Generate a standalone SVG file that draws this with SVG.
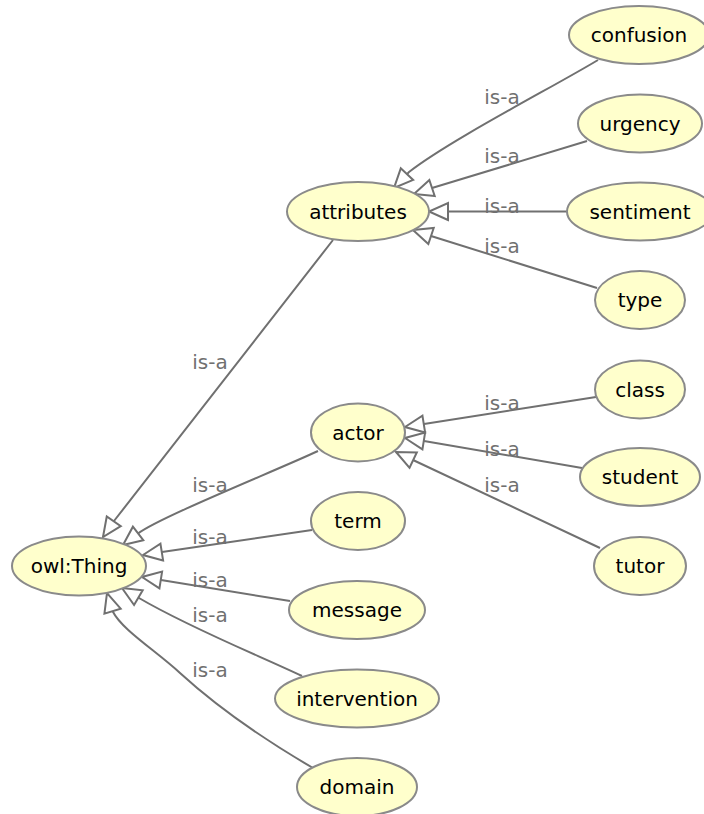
<svg xmlns="http://www.w3.org/2000/svg" width="704" height="814" viewBox="0 0 704 814">
  <style>
    .node ellipse { fill: #ffffcc; stroke: #8a8a8a; stroke-width: 2; }
    .node text { font-family: "DejaVu Sans", sans-serif; font-size: 20px; fill: #000000; text-anchor: middle; }
    .edge { fill: none; stroke: #707070; stroke-width: 2; marker-end: url(#isa); }
    .lbl { font-family: "DejaVu Sans", sans-serif; font-size: 20px; fill: #707070; text-anchor: middle; }
  </style>
  <defs>
    <!-- hollow triangle used for subclass (is-a) arrows -->
    <marker id="isa" markerUnits="userSpaceOnUse" viewBox="-2 -11 23 22" markerWidth="23" markerHeight="22" refX="19" refY="0" orient="auto" overflow="visible">
      <path d="M0,-8.5 L19,0 L0,8.5 Z" fill="#ffffff" stroke="#707070" stroke-width="2" stroke-linejoin="miter"/>
    </marker>
  </defs>
  <rect width="704" height="814" fill="#ffffff"/>

  <g id="edges">
    <path class="edge" d="M598,60 C555,86 450,140 409,172 L394,188"/>
    <path class="edge" d="M587,141 L432,188 L414,194"/>
    <path class="edge" d="M567,211.5 L448,211.5 L429,211.5"/>
    <path class="edge" d="M597,288 L431,236 L413,230"/>
    <path class="edge" d="M596,397 L424,424 L405,427"/>
    <path class="edge" d="M582,468 L424,441 L405,438"/>
    <path class="edge" d="M600,548 L413,460 L396,452"/>
    <path class="edge" d="M333,240 L114,521 L103,537"/>
    <path class="edge" d="M318,451 C275,471 160,517 138,533.5 L123,545"/>
    <path class="edge" d="M312,530 L162,552 L143,555"/>
    <path class="edge" d="M290,601 L161,580 L142,577"/>
    <path class="edge" d="M302,676 C260,656 190,628 139,598 L122,588"/>
    <path class="edge" d="M313,768 C265,740 215,705 180,673 C155,650 122,630 112.5,611 L107,593"/>
    <text class="lbl" x="502" y="104">is-a</text>
    <text class="lbl" x="502" y="163">is-a</text>
    <text class="lbl" x="502" y="213">is-a</text>
    <text class="lbl" x="502" y="253">is-a</text>
    <text class="lbl" x="502" y="410">is-a</text>
    <text class="lbl" x="502" y="456">is-a</text>
    <text class="lbl" x="502" y="492">is-a</text>
    <text class="lbl" x="210" y="369">is-a</text>
    <text class="lbl" x="210" y="492">is-a</text>
    <text class="lbl" x="210" y="544">is-a</text>
    <text class="lbl" x="210" y="587">is-a</text>
    <text class="lbl" x="210" y="622">is-a</text>
    <text class="lbl" x="210" y="677">is-a</text>
  </g>

  <g id="owl-thing" class="node"><ellipse cx="79" cy="566" rx="67" ry="29.5"/><text x="79" y="573">owl:Thing</text></g>
  <g id="attributes" class="node"><ellipse cx="358" cy="211.5" rx="71" ry="29.5"/><text x="358" y="218.5">attributes</text></g>
  <g id="confusion" class="node"><ellipse cx="639" cy="35" rx="70" ry="29"/><text x="639" y="42">confusion</text></g>
  <g id="urgency" class="node"><ellipse cx="640" cy="123.5" rx="62" ry="29"/><text x="640" y="130.5">urgency</text></g>
  <g id="sentiment" class="node"><ellipse cx="640" cy="211.5" rx="73" ry="29"/><text x="640" y="218.5">sentiment</text></g>
  <g id="type" class="node"><ellipse cx="640" cy="300" rx="45" ry="29"/><text x="640" y="307">type</text></g>
  <g id="actor" class="node"><ellipse cx="358" cy="432.5" rx="47" ry="29"/><text x="358" y="439.5">actor</text></g>
  <g id="class" class="node"><ellipse cx="640" cy="389.5" rx="45" ry="29"/><text x="640" y="396.5">class</text></g>
  <g id="student" class="node"><ellipse cx="640" cy="477" rx="60" ry="29"/><text x="640" y="484">student</text></g>
  <g id="tutor" class="node"><ellipse cx="640" cy="566" rx="46" ry="29"/><text x="640" y="573">tutor</text></g>
  <g id="term" class="node"><ellipse cx="358" cy="521" rx="47" ry="29"/><text x="358" y="528">term</text></g>
  <g id="message" class="node"><ellipse cx="357" cy="610" rx="68" ry="29"/><text x="357" y="617">message</text></g>
  <g id="intervention" class="node"><ellipse cx="357" cy="698.5" rx="82" ry="29"/><text x="357" y="705.5">intervention</text></g>
  <g id="domain" class="node"><ellipse cx="357" cy="787" rx="60" ry="29"/><text x="357" y="794">domain</text></g>
</svg>
